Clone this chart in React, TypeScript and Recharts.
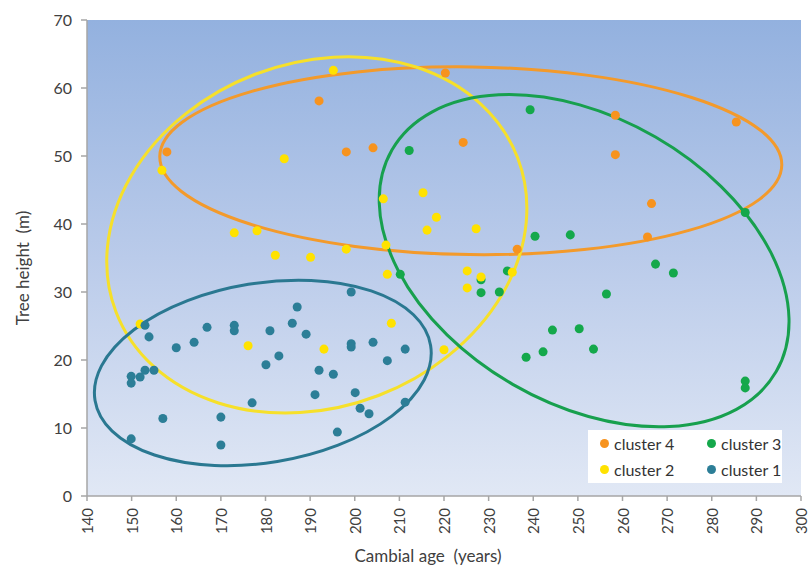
import { ScatterChart, Scatter, XAxis, YAxis, CartesianGrid, ReferenceArea } from "recharts";

// cambial age (years) / tree height (m) per cluster
const cluster4 = [
  { x: 157.9, y: 50.6 }, { x: 192.0, y: 58.1 }, { x: 198.1, y: 50.6 }, { x: 204.1, y: 51.2 },
  { x: 220.3, y: 62.2 }, { x: 224.3, y: 52.0 }, { x: 236.4, y: 36.3 }, { x: 258.4, y: 56.0 },
  { x: 258.4, y: 50.2 }, { x: 265.6, y: 38.1 }, { x: 266.5, y: 43.0 }, { x: 285.5, y: 55.0 },
];

const cluster3 = [
  { x: 210.2, y: 32.6 }, { x: 212.2, y: 50.8 }, { x: 228.3, y: 31.8 }, { x: 228.3, y: 29.9 },
  { x: 232.4, y: 30.0 }, { x: 234.2, y: 33.1 }, { x: 238.4, y: 20.4 }, { x: 239.3, y: 56.8 },
  { x: 240.4, y: 38.2 }, { x: 242.2, y: 21.2 }, { x: 244.3, y: 24.4 }, { x: 248.3, y: 38.4 },
  { x: 250.3, y: 24.6 }, { x: 253.5, y: 21.6 }, { x: 256.4, y: 29.7 }, { x: 267.4, y: 34.1 },
  { x: 271.4, y: 32.8 }, { x: 287.5, y: 41.7 }, { x: 287.5, y: 16.9 }, { x: 287.5, y: 15.9 },
];

const cluster2 = [
  { x: 156.8, y: 47.9 }, { x: 151.9, y: 25.3 }, { x: 173.0, y: 38.7 }, { x: 178.1, y: 39.0 },
  { x: 176.1, y: 22.1 }, { x: 182.2, y: 35.4 }, { x: 184.2, y: 49.6 }, { x: 190.1, y: 35.1 },
  { x: 193.1, y: 21.6 }, { x: 195.2, y: 62.6 }, { x: 198.1, y: 36.3 }, { x: 206.4, y: 43.7 },
  { x: 207.0, y: 36.9 }, { x: 207.3, y: 32.6 }, { x: 208.2, y: 25.4 }, { x: 215.3, y: 44.6 },
  { x: 216.2, y: 39.1 }, { x: 218.3, y: 41.0 }, { x: 220.0, y: 21.5 }, { x: 225.2, y: 33.1 },
  { x: 225.2, y: 30.6 }, { x: 227.2, y: 39.3 }, { x: 228.3, y: 32.2 }, { x: 235.3, y: 32.9 },
];

const cluster1 = [
  { x: 149.9, y: 17.6 }, { x: 149.9, y: 16.6 }, { x: 149.9, y: 8.4 }, { x: 151.9, y: 17.5 },
  { x: 153.0, y: 25.1 }, { x: 153.0, y: 18.5 }, { x: 153.9, y: 23.4 }, { x: 155.0, y: 18.5 },
  { x: 157.0, y: 11.4 }, { x: 160.0, y: 21.8 }, { x: 164.0, y: 22.6 }, { x: 166.9, y: 24.8 },
  { x: 170.0, y: 11.6 }, { x: 170.0, y: 7.5 }, { x: 173.0, y: 25.1 }, { x: 173.0, y: 24.3 },
  { x: 177.0, y: 13.7 }, { x: 180.1, y: 19.3 }, { x: 181.0, y: 24.3 }, { x: 183.0, y: 20.6 },
  { x: 186.0, y: 25.4 }, { x: 187.1, y: 27.8 }, { x: 189.1, y: 23.8 }, { x: 191.1, y: 14.9 },
  { x: 192.0, y: 18.5 }, { x: 195.2, y: 17.9 }, { x: 196.1, y: 9.4 }, { x: 199.2, y: 30.0 },
  { x: 199.2, y: 22.4 }, { x: 199.2, y: 21.9 }, { x: 200.1, y: 15.2 }, { x: 201.2, y: 12.9 },
  { x: 203.2, y: 12.1 }, { x: 204.1, y: 22.6 }, { x: 207.3, y: 19.9 }, { x: 211.3, y: 21.6 },
  { x: 211.3, y: 13.8 },
];

// cluster outlines: centre, half-extent along the major axis (years) and minor axis (m), tilt in degrees
const ellipseNames = ["cluster 4", "cluster 2", "cluster 3", "cluster 1"];
const ellipseCentres = [[226.0, 49.3], [191.5, 38.4], [251.4, 34.6], [179.4, 18.1]];
const ellipseHalfX = [69.7, 48.2, 49.7, 38.1];
const ellipseHalfY = [13.8, 25.3, 21.0, 13.2];
const ellipseTilt = [0.8, -21, 30, -9.3];

const xTicks = [140, 150, 160, 170, 180, 190, 200, 210, 220, 230, 240, 250, 260, 270, 280, 290, 300];
const yTicks = [0, 10, 20, 30, 40, 50, 60, 70];

const colors: Record<string, string> = {
  "cluster 4": "#F7931E",
  "cluster 3": "#14A84B",
  "cluster 2": "#FFE200",
  "cluster 1": "#2C7E97",
};
const lineColors: Record<string, string> = {
  "cluster 4": "#F39A2B",
  "cluster 3": "#17A04E",
  "cluster 2": "#F6E02A",
  "cluster 1": "#2A7891",
};

const FONT = "Lato, 'Open Sans', sans-serif";
const TEXT = "#404040";
const AXIS = "#A6A6A6";

const XTick = ({ x, y, payload }: any) => (
  <text
    x={x}
    y={y + 5}
    transform={`rotate(-90 ${x} ${y + 5})`}
    textAnchor="end"
    dominantBaseline="central"
    fontSize={15}
    fontFamily={FONT}
    fill={TEXT}
  >
    {payload.value}
  </text>
);

const makeEllipse = (color: string, tilt: number) => (props: any) => {
  const { x, y, width, height } = props;
  const cx = x + width / 2;
  const cy = y + height / 2;
  return (
    <ellipse
      cx={cx}
      cy={cy}
      rx={Math.abs(width) / 2}
      ry={Math.abs(height) / 2}
      transform={`rotate(${tilt} ${cx} ${cy})`}
      fill="none"
      stroke={color}
      strokeWidth={3}
    />
  );
};

const legendItems = ["cluster 4", "cluster 3", "cluster 2", "cluster 1"];

export default function App() {
  return (
    <div style={{ position: "absolute", left: 0, top: 0, width: 809, height: 565, background: "#fff" }}>
      <ScatterChart width={809} height={565} margin={{ top: 20, right: 8, left: 27, bottom: 19 }}>
        <defs>
          <linearGradient id="plotBg" x1="0" y1="0" x2="0" y2="1">
            <stop offset="0%" stopColor="#93B1DF" />
            <stop offset="50%" stopColor="#BACBEA" />
            <stop offset="100%" stopColor="#E1E8F5" />
          </linearGradient>
        </defs>
        <CartesianGrid horizontal={false} vertical={false} fill="url(#plotBg)" stroke="none" />
        <XAxis
          type="number"
          dataKey="x"
          domain={[140, 300]}
          ticks={xTicks}
          interval={0}
          height={50}
          stroke={AXIS}
          strokeWidth={1.5}
          tickSize={5}
          tick={<XTick />}
          label={{
            content: ({ viewBox }: any) => (
              <text
                x={viewBox.x + viewBox.width / 2 - 16}
                y={viewBox.y + 59}
                textAnchor="middle"
                dominantBaseline="central"
                fontSize={17}
                fontFamily={FONT}
                fill={TEXT}
                style={{ whiteSpace: "pre" }}
              >
                {"Cambial age  (years)"}
              </text>
            ),
          }}
        />
        <YAxis
          type="number"
          dataKey="y"
          domain={[0, 70]}
          ticks={yTicks}
          interval={0}
          width={60}
          stroke={AXIS}
          strokeWidth={1.5}
          tickSize={6}
          tickMargin={9}
          tick={{ fontSize: 16, fontFamily: FONT, fill: TEXT }}
          label={{
            content: ({ viewBox }: any) => {
              const lx = viewBox.x - 5;
              const ly = viewBox.y + viewBox.height / 2 + 10;
              return (
                <text
                  x={lx}
                  y={ly}
                  transform={`rotate(-90 ${lx} ${ly})`}
                  textAnchor="middle"
                  dominantBaseline="central"
                  fontSize={17}
                  fontFamily={FONT}
                  fill={TEXT}
                  style={{ whiteSpace: "pre" }}
                >
                  {"Tree height  (m)"}
                </text>
              );
            },
          }}
        />
        {ellipseNames.map((name, i) => (
          <ReferenceArea
            key={name}
            x1={ellipseCentres[i][0] - ellipseHalfX[i]}
            x2={ellipseCentres[i][0] + ellipseHalfX[i]}
            y1={ellipseCentres[i][1] - ellipseHalfY[i]}
            y2={ellipseCentres[i][1] + ellipseHalfY[i]}
            ifOverflow="visible"
            shape={makeEllipse(lineColors[name], ellipseTilt[i])}
          />
        ))}
        <Scatter name="cluster 4" data={cluster4} fill={colors["cluster 4"]} isAnimationActive={false} />
        <Scatter name="cluster 3" data={cluster3} fill={colors["cluster 3"]} isAnimationActive={false} />
        <Scatter name="cluster 2" data={cluster2} fill={colors["cluster 2"]} isAnimationActive={false} />
        <Scatter name="cluster 1" data={cluster1} fill={colors["cluster 1"]} isAnimationActive={false} />
      </ScatterChart>
      <div
        style={{
          position: "absolute",
          left: 588,
          top: 430,
          width: 194,
          height: 53,
          background: "#fff",
          display: "grid",
          gridTemplateColumns: "107px 87px",
          gridTemplateRows: "26px 26px",
          alignItems: "center",
          fontFamily: FONT,
          fontSize: 16,
          color: "#333",
          boxSizing: "border-box",
          paddingLeft: 12,
        }}
      >
        {legendItems.map((name) => (
          <div key={name} style={{ display: "flex", alignItems: "center" }}>
            <span
              style={{
                display: "inline-block",
                width: 9,
                height: 9,
                borderRadius: "50%",
                background: colors[name],
                marginRight: 5,
              }}
            />
            {name}
          </div>
        ))}
      </div>
    </div>
  );
}
